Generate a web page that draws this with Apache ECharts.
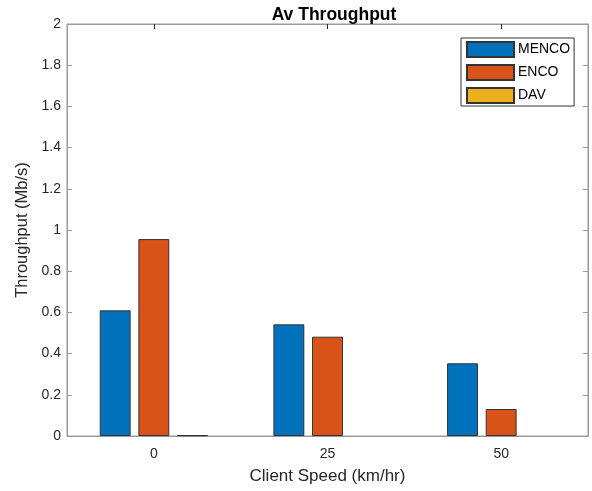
<!DOCTYPE html>
<html>
<head>
<meta charset="utf-8">
<script src="https://cdn.jsdelivr.net/npm/echarts@6/dist/echarts.min.js"></script>
<style>html,body{margin:0;padding:0;background:#fff;}#c{width:592px;height:491px;}</style>
</head>
<body>
<div id="c"></div>
<script>
const categories = ['0', '25', '50'];
const mencoValues = [0.61, 0.542, 0.353];
const encoValues = [0.956, 0.482, 0.131];
const davValues = [0.004, 0, 0];
const yTicks = [0, 0.2, 0.4, 0.6, 0.8, 1, 1.2, 1.4, 1.6, 1.8, 2];

const font = 'Liberation Sans, Arial, Helvetica, sans-serif';
const axisGray = '#9a9a9a';
const textGray = '#262626';

const chart = echarts.init(document.getElementById('c'));
function barSeries(name, data, color) {
  return {
    name: name, type: 'bar',
    data: data.map(v => (v === 0 ? null : v)),
    xAxisIndex: 0, yAxisIndex: 0,
    barWidth: '17.8%', barGap: '25%',
    itemStyle: { color: color, borderColor: '#333333', borderWidth: 1 },
    emphasis: { disabled: true }
  };
}
chart.setOption({
  animation: false,
  textStyle: { fontFamily: font },
  title: {
    text: 'Av Throughput', left: 329, top: 1, textAlign: 'center',
    textStyle: { fontFamily: font, fontSize: 17.5, fontWeight: 'bold', color: '#000' }
  },
  legend: {
    orient: 'vertical', left: 461, top: 38,
    padding: [3, 4, 2, 5], itemGap: 6, itemWidth: 47, itemHeight: 15,
    backgroundColor: '#fff', borderColor: '#333', borderWidth: 1, borderRadius: 0,
    icon: 'rect',
    textStyle: { fontFamily: font, fontSize: 14, color: '#000', padding: [0, 0, 0, -1] },
    data: ['MENCO', 'ENCO', 'DAV']
  },
  grid: { left: 67, right: 4, top: 24, bottom: 55, containLabel: false,
    show: true, borderColor: axisGray, borderWidth: 1, backgroundColor: 'transparent' },
  xAxis: [{
    type: 'category', data: categories, position: 'bottom',
    name: 'Client Speed (km/hr)', nameLocation: 'middle', nameGap: 32,
    nameTextStyle: { fontFamily: font, fontSize: 17, color: textGray },
    axisLine: { onZero: false, lineStyle: { color: axisGray, width: 1 } },
    axisTick: { inside: true, alignWithLabel: true, length: 5, lineStyle: { color: textGray } },
    axisLabel: { fontFamily: font, fontSize: 14, color: textGray, margin: 11 },
    splitLine: { show: false }
  }, {
    type: 'category', data: categories, position: 'top', show: true,
    axisLine: { show: true, onZero: false, lineStyle: { color: axisGray, width: 1 } },
    axisTick: { show: true, inside: true, alignWithLabel: true, length: 5, lineStyle: { color: textGray } },
    axisLabel: { show: false }, splitLine: { show: false }
  }],
  yAxis: [{
    type: 'value', min: 0, max: 2, interval: 0.2, position: 'left',
    name: 'Throughput (Mb/s)', nameLocation: 'middle', nameGap: 33,
    nameTextStyle: { fontFamily: font, fontSize: 16.5, color: textGray },
    axisLine: { show: true, onZero: false, lineStyle: { color: axisGray, width: 1 } },
    axisTick: { show: true, inside: true, length: 5, lineStyle: { color: axisGray } },
    axisLabel: { fontFamily: font, fontSize: 14, color: textGray, margin: 6,
      formatter: function (v) { const t = yTicks.find(x => Math.abs(x - v) < 1e-9); return t === undefined ? '' : String(t); } },
    splitLine: { show: false }
  }, {
    type: 'value', min: 0, max: 2, interval: 0.2, position: 'right',
    axisLine: { show: true, onZero: false, lineStyle: { color: axisGray, width: 1 } },
    axisTick: { show: true, inside: true, length: 5, lineStyle: { color: axisGray } },
    axisLabel: { show: false }, splitLine: { show: false }
  }],
  series: [
    barSeries('MENCO', mencoValues, '#0072BD'),
    barSeries('ENCO', encoValues, '#D95319'),
    barSeries('DAV', davValues, '#EDB120')
  ]
});
</script>
</body>
</html>
